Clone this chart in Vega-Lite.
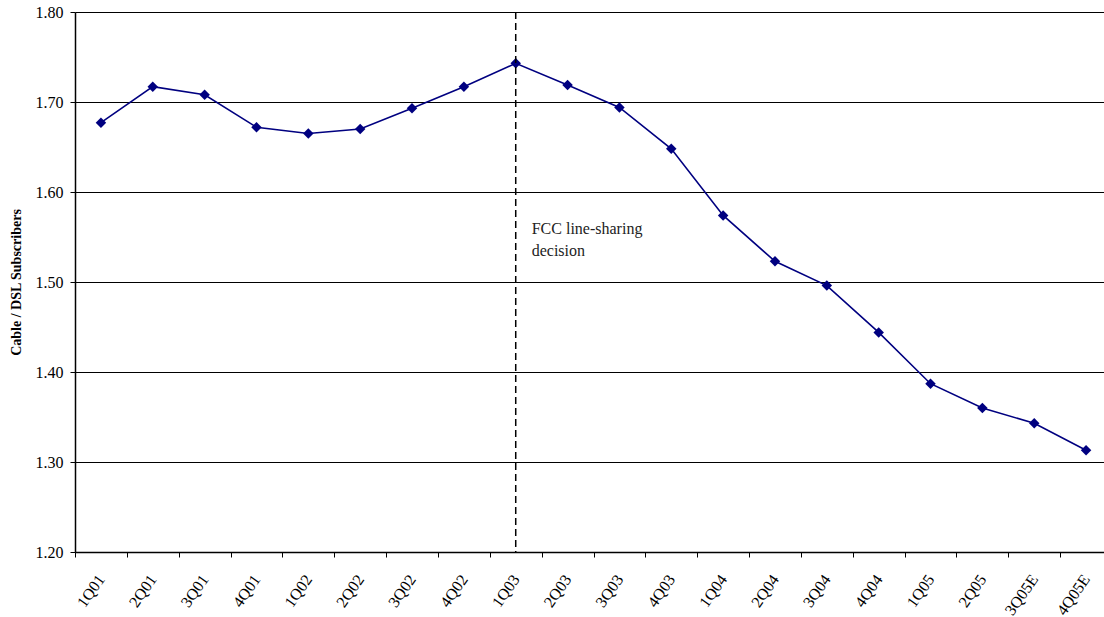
{
  "$schema": "https://vega.github.io/schema/vega-lite/v6.json",
  "autosize": {"type": "none"},
  "padding": {"left": 75, "top": 12, "right": 0, "bottom": 65},
  "width": 1029,
  "height": 540,
  "background": "white",
  "datasets": {
    "ratios": [
      {"quarter": "1Q01", "ratio": 1.677},
      {"quarter": "2Q01", "ratio": 1.717},
      {"quarter": "3Q01", "ratio": 1.708},
      {"quarter": "4Q01", "ratio": 1.672},
      {"quarter": "1Q02", "ratio": 1.665},
      {"quarter": "2Q02", "ratio": 1.670},
      {"quarter": "3Q02", "ratio": 1.693},
      {"quarter": "4Q02", "ratio": 1.717},
      {"quarter": "1Q03", "ratio": 1.743},
      {"quarter": "2Q03", "ratio": 1.719},
      {"quarter": "3Q03", "ratio": 1.694},
      {"quarter": "4Q03", "ratio": 1.648},
      {"quarter": "1Q04", "ratio": 1.574},
      {"quarter": "2Q04", "ratio": 1.523},
      {"quarter": "3Q04", "ratio": 1.496},
      {"quarter": "4Q04", "ratio": 1.444},
      {"quarter": "1Q05", "ratio": 1.387},
      {"quarter": "2Q05", "ratio": 1.360},
      {"quarter": "3Q05E", "ratio": 1.343},
      {"quarter": "4Q05E", "ratio": 1.313}
    ],
    "events": [
      {"quarter": "1Q03", "note": "FCC line-sharing decision"}
    ]
  },
  "config": {
    "view": {"stroke": null},
    "font": "Liberation Serif",
    "axis": {
      "labelFont": "Liberation Serif",
      "titleFont": "Liberation Serif",
      "labelColor": "#000000",
      "titleColor": "#000000",
      "domainColor": "#000000",
      "tickColor": "#000000",
      "labelFontSize": 16,
      "tickSize": 5
    }
  },
  "layer": [
    {
      "data": {"name": "ratios"},
      "mark": {"type": "line", "color": "#000080", "strokeWidth": 1.6},
      "encoding": {
        "x": {
          "field": "quarter",
          "type": "ordinal",
          "sort": null,
          "bandPosition": 0.5,
          "scale": {"type": "band", "paddingInner": 0, "paddingOuter": 0, "range": [0, 1037]},
          "axis": {
            "title": null,
            "tickBand": "extent",
            "labelAngle": -55,
            "labelAlign": "right",
            "labelBaseline": "middle",
            "labelPadding": 19,
            "labelFontSize": 16,
            "grid": false,
            "domainWidth": 1.5
          }
        },
        "y": {
          "field": "ratio",
          "type": "quantitative",
          "scale": {"domain": [1.2, 1.8], "nice": false, "zero": false},
          "axis": {
            "title": "Cable / DSL Subscribers",
            "titleFontSize": 14,
            "titleFontWeight": "bold",
            "titlePadding": 12,
            "format": ".2f",
            "values": [1.2, 1.3, 1.4, 1.5, 1.6, 1.7, 1.8],
            "labelPadding": 7,
            "grid": true,
            "gridColor": "#000000",
            "gridOpacity": 1,
            "domainWidth": 1.5
          }
        }
      }
    },
    {
      "data": {"name": "ratios"},
      "mark": {"type": "point", "shape": "diamond", "filled": true, "color": "#000080", "size": 110, "opacity": 1},
      "encoding": {
        "x": {"field": "quarter", "type": "ordinal", "sort": null, "bandPosition": 0.5},
        "y": {"field": "ratio", "type": "quantitative"}
      }
    },
    {
      "data": {"name": "events"},
      "mark": {"type": "rule", "color": "#000000", "strokeWidth": 1.5, "strokeDash": [7, 4]},
      "encoding": {
        "x": {"field": "quarter", "type": "ordinal", "sort": null, "bandPosition": 0.5}
      }
    },
    {
      "data": {"name": "events"},
      "mark": {
        "type": "text",
        "text": ["FCC line-sharing", "decision"],
        "align": "left",
        "baseline": "alphabetic",
        "dx": 16,
        "fontSize": 16,
        "lineHeight": 22,
        "font": "Liberation Serif",
        "color": "#222222"
      },
      "encoding": {
        "x": {"field": "quarter", "type": "ordinal", "sort": null, "bandPosition": 0.5},
        "y": {"datum": 1.553}
      }
    }
  ]
}
